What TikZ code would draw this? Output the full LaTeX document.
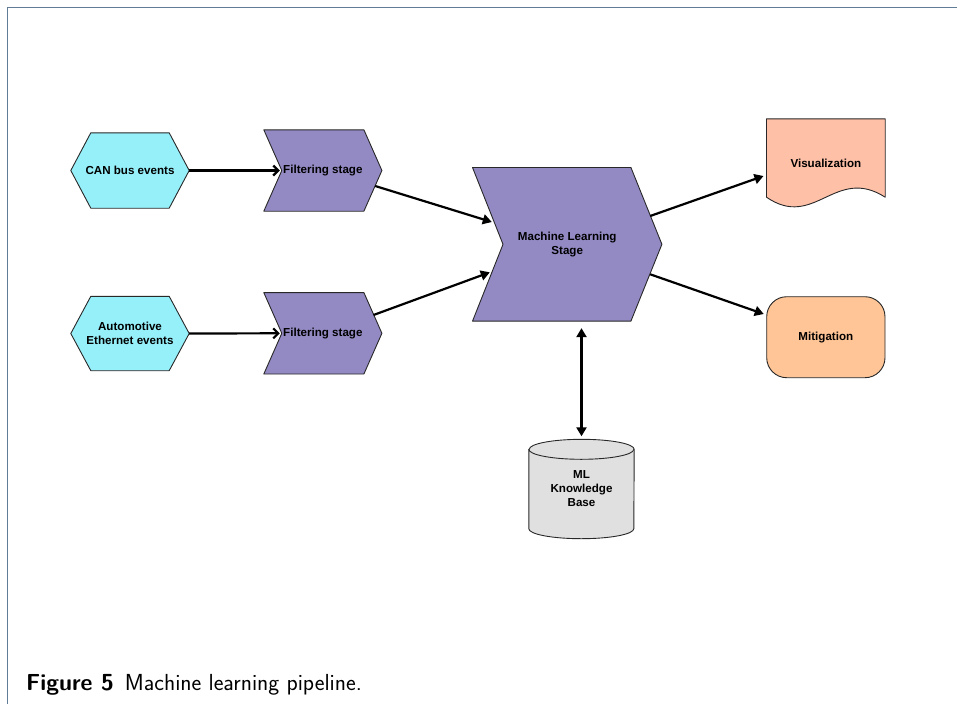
\documentclass[tikz,border=0pt]{standalone}
\usepackage{fontspec}
\newfontfamily\diagfont{Liberation Sans}
\usetikzlibrary{arrows.meta,backgrounds}
\definecolor{eventfill}{RGB}{150,240,250}
\definecolor{stagefill}{RGB}{147,138,196}
\definecolor{visfill}{RGB}{255,192,168}
\definecolor{mitfill}{RGB}{255,197,150}
\definecolor{dbfill}{RGB}{224,224,224}
\definecolor{framecol}{RGB}{96,124,150}
\definecolor{edgecol}{RGB}{40,40,40}
\tikzset{headtip/.tip={Triangle[length=9pt,width=10pt]}}
\begin{document}
\begin{tikzpicture}[x=1pt,y=-1pt,
  box/.style={draw=none,inner sep=0pt,align=center,
    font=\diagfont\bfseries\fontsize{11.6}{14}\selectfont},
  outline/.style={draw=edgecol,line width=0.9pt,line join=round},
  flow/.style={line width=2.2pt,-headtip},
  feed/.style={line width=2.2pt,-{Straight Barb[length=5pt,width=10pt]}},
]
\useasboundingbox (0,0) rectangle (957,704);

% frame
\draw[framecol,line width=1.8pt] (7.5,704) -- (7.5,7.5) -- (957,7.5);

% nodes
\node[box,minimum width=118pt,minimum height=75pt] (can) at (130,170.5) {CAN bus events};
\node[box,minimum width=118pt,minimum height=74pt] (eth) at (130,333.5) {Automotive\\Ethernet events};
\node[box,minimum width=117.7pt,minimum height=81pt] (f1) at (322.85,170.5) {Filtering stage};
\node[box,minimum width=117.7pt,minimum height=81pt] (f2) at (322.85,333.3) {Filtering stage};
\node[box,minimum width=189pt,minimum height=153.3pt] (ml) at (567.2,244.3) {Machine Learning\\Stage};
\node[box,minimum width=118.3pt,minimum height=88pt] (vis) at (825.85,163) {Visualization};
\node[box,draw=edgecol,line width=0.9pt,fill=mitfill,rounded corners=20pt,
  minimum width=118.3pt,minimum height=81pt] (mit) at (825.85,337.2) {Mitigation};
\node[box,minimum width=105pt,minimum height=99pt] (kb) at (581.5,489) {ML\\Knowledge\\Base};

% shapes behind the labels
\begin{scope}[on background layer]
  \filldraw[outline,fill=eventfill] (can.west) -- ([shift={(20,0)}]can.north west)
    -- ([shift={(-20,0)}]can.north east) -- (can.east)
    -- ([shift={(-20,0)}]can.south east) -- ([shift={(20,0)}]can.south west) -- cycle;
  \filldraw[outline,fill=eventfill] (eth.west) -- ([shift={(20,0)}]eth.north west)
    -- ([shift={(-20,0)}]eth.north east) -- (eth.east)
    -- ([shift={(-20,0)}]eth.south east) -- ([shift={(20,0)}]eth.south west) -- cycle;
  \filldraw[outline,fill=stagefill] (f1.north west) -- ([shift={(-18,0)}]f1.north east)
    -- (f1.east) -- ([shift={(-18,0)}]f1.south east) -- (f1.south west)
    -- ([shift={(18,0)}]f1.west) -- cycle;
  \filldraw[outline,fill=stagefill] (f2.north west) -- ([shift={(-18,0)}]f2.north east)
    -- (f2.east) -- ([shift={(-18,0)}]f2.south east) -- (f2.south west)
    -- ([shift={(18,0)}]f2.west) -- cycle;
  \filldraw[outline,fill=stagefill] (ml.north west) -- ([shift={(-31,0)}]ml.north east)
    -- (ml.east) -- ([shift={(-31,0)}]ml.south east) -- (ml.south west)
    -- ([shift={(30.5,0)}]ml.west) -- cycle;
  \filldraw[outline,fill=visfill] (vis.north west) -- (vis.north east)
    -- ([shift={(0,-10)}]vis.south east)
    .. controls ([shift={(-50,-42)}]vis.south east) and ([shift={(48,23)}]vis.south west)
    .. ([shift={(0,-10)}]vis.south west) -- cycle;
  \filldraw[outline,fill=dbfill] ([shift={(0,10)}]kb.north west)
    -- ([shift={(0,-10)}]kb.south west)
    arc[start angle=180,end angle=360,x radius=52.5pt,y radius=10pt]
    -- ([shift={(0,10)}]kb.north east)
    arc[start angle=0,end angle=180,x radius=52.5pt,y radius=10pt] -- cycle;
  \draw[outline] ([shift={(0,10)}]kb.north west)
    arc[start angle=180,end angle=360,x radius=52.5pt,y radius=10pt];
\end{scope}

% connectors
\draw[feed] (can.east) -- ([shift={(16,0)}]f1.west);
\draw[feed] (eth.east) -- ([shift={(16,0)}]f2.west);
\draw[flow] ([shift={(-6.7,15.5)}]f1.east) -- ([shift={(19.3,-22.3)}]ml.west);
\draw[flow] ([shift={(-8.4,-18.3)}]f2.east) -- ([shift={(17.3,28)}]ml.west);
\draw[flow] ([shift={(-11.7,-28.3)}]ml.east) -- ([shift={(-3,13)}]vis.west);
\draw[flow] ([shift={(-11.7,30)}]ml.east) -- ([shift={(-2.5,-23.2)}]mit.west);
\draw[flow,headtip-headtip]
  ([shift={(0,7)}]kb.north |- ml.south) -- ([shift={(0,-3)}]kb.north);

% caption
\node[anchor=base west,inner sep=0pt,font=\sffamily\fontsize{23.2}{27}\selectfont] (cap)
  at (26,690) {\textbf{Figure 5}\hspace{11pt}Machine learning pipeline.};
\end{tikzpicture}
\end{document}
